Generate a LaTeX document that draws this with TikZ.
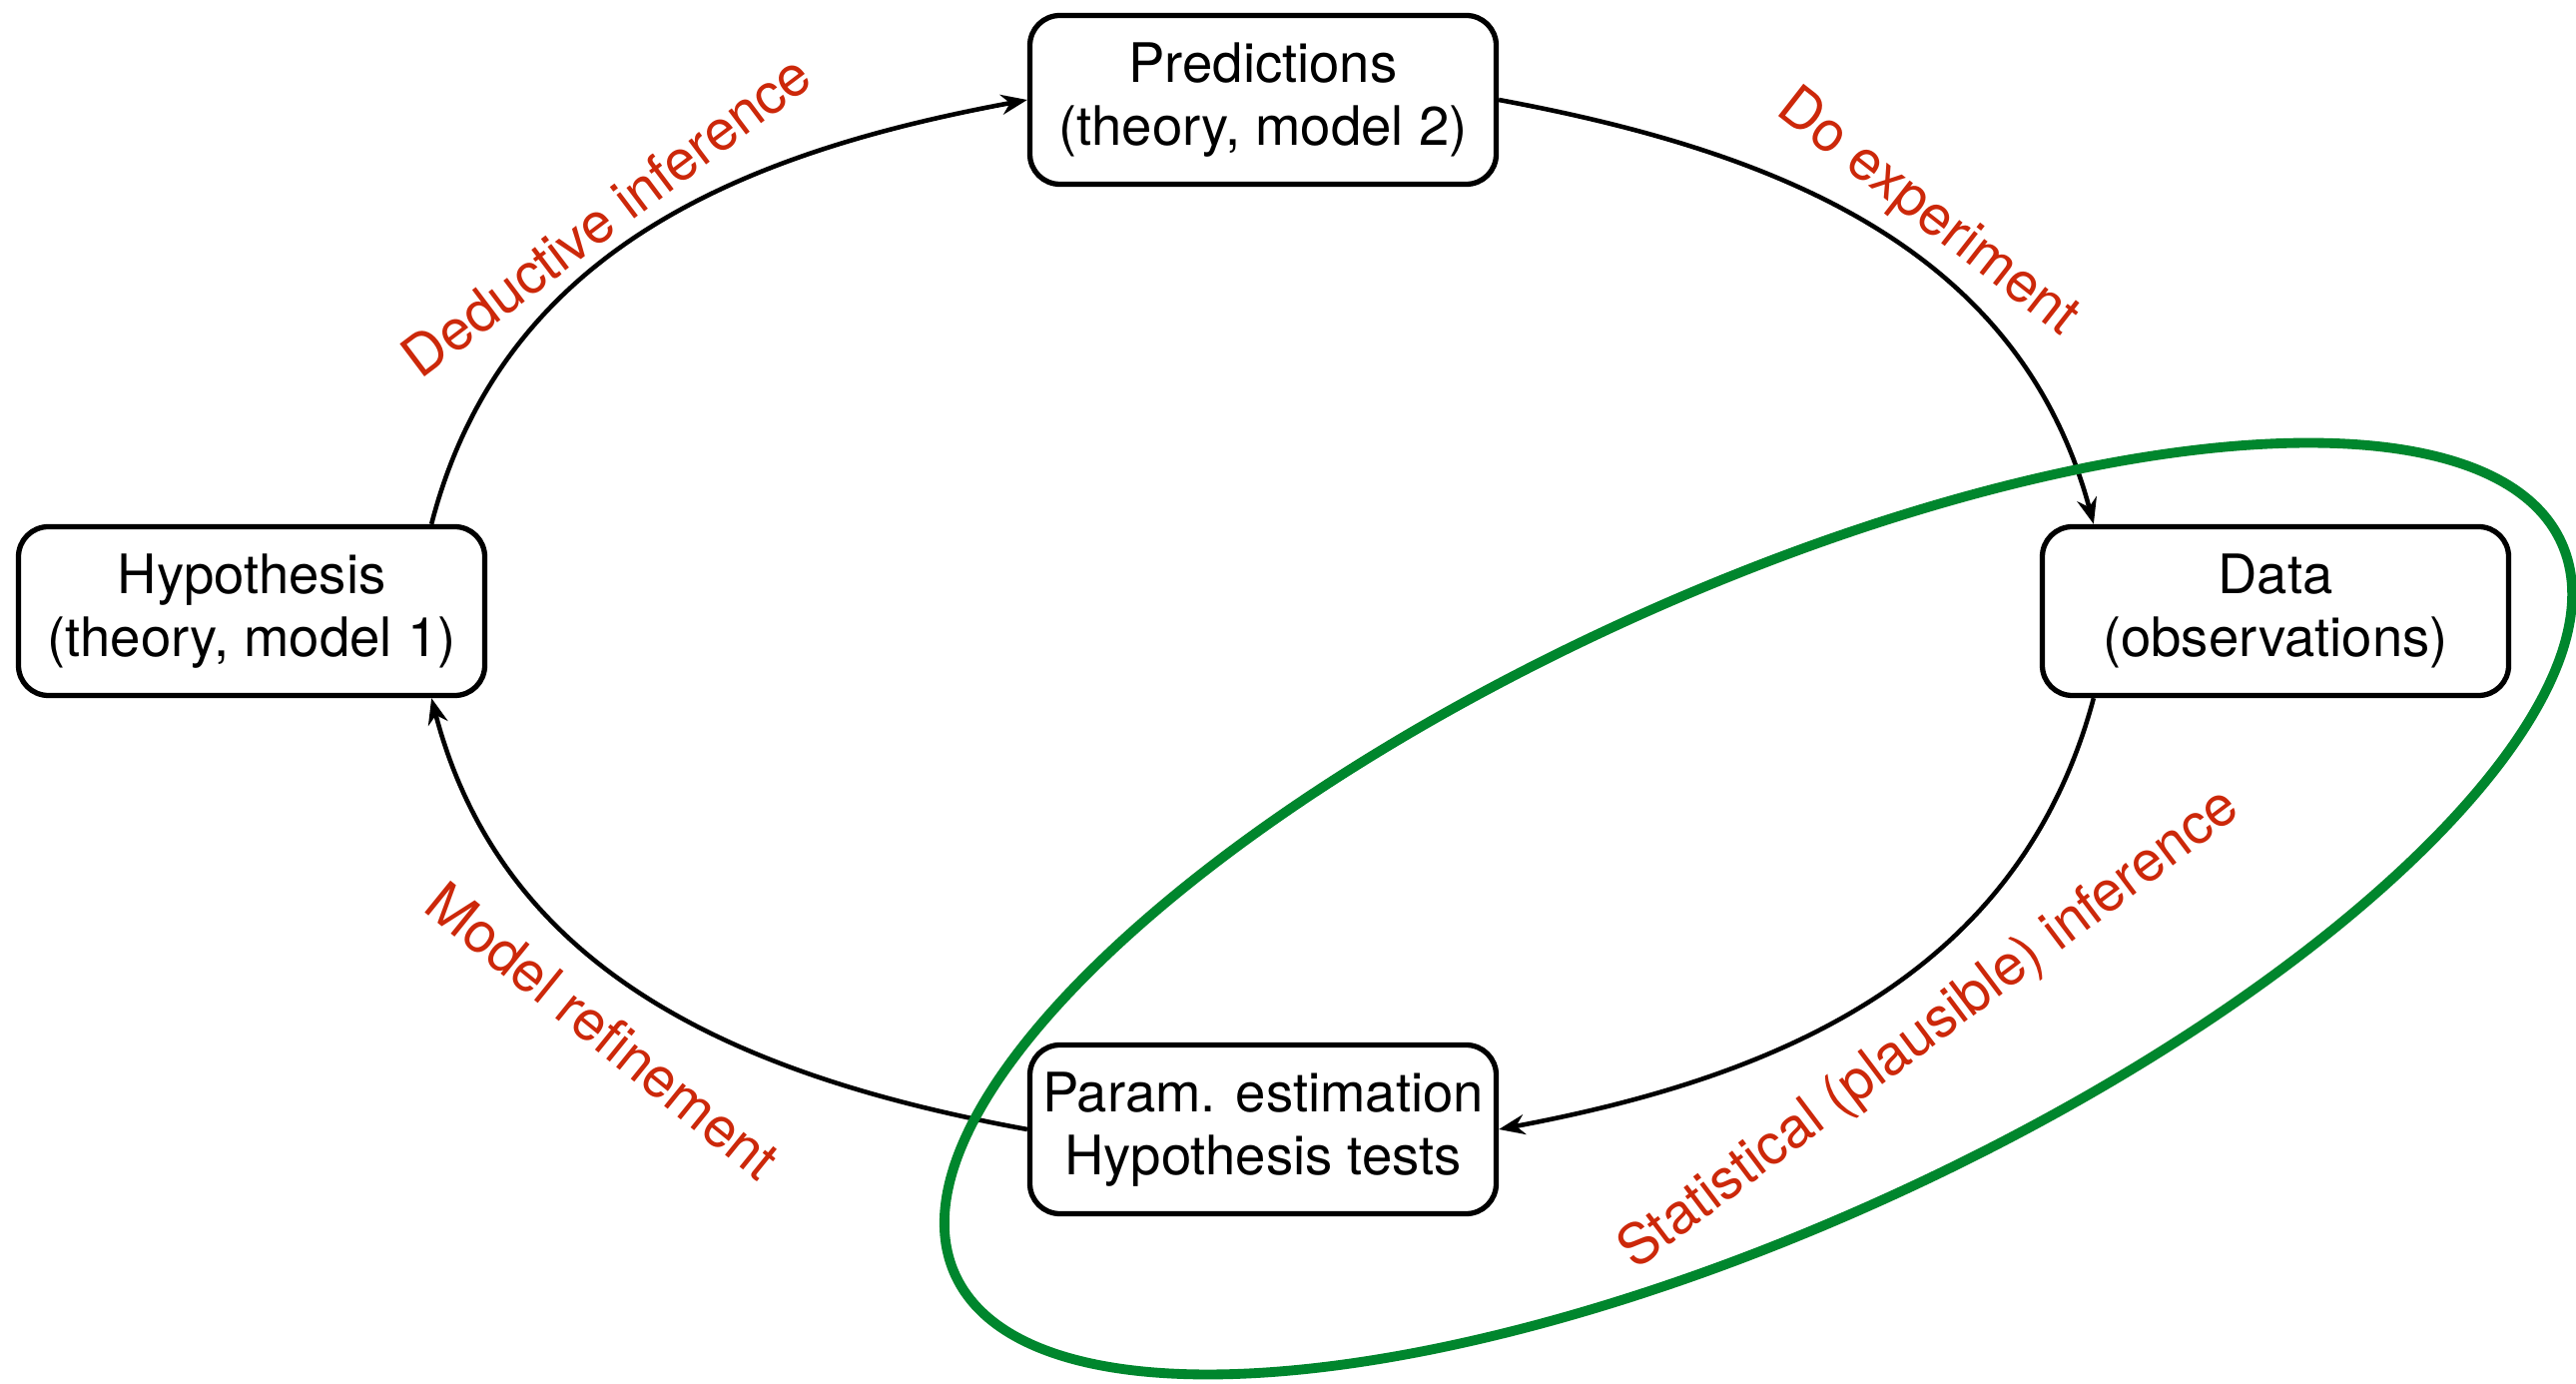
\documentclass[tikz,border=0pt]{standalone}
\usepackage{fontspec}
\setmainfont{TeX Gyre Heros}
\usepackage{tikz}
\usetikzlibrary{arrows.meta, positioning, calc}
\usepackage{xcolor}
\definecolor{labelred}{RGB}{204,40,10}
\definecolor{loopgreen}{RGB}{0,134,45}

\tikzset{
  stagebox/.style={draw, line width=1.5pt, rounded corners=0.3cm, fill=white,
    minimum width=4.67cm, minimum height=1.69cm, align=center,
    font=\fontsize{15.5}{18}\selectfont},
  cyclearrow/.style={line width=1.3pt, -{Stealth[length=0.26cm, width=0.2cm]}},
  steplabel/.style={labelred, font=\fontsize{16}{18}\selectfont}
}

\begin{document}
\begin{tikzpicture}
  \useasboundingbox[fill=white] (0,0) rectangle (25.8,13.85);
  % the four stages of the cycle
  \node[stagebox] (pred)  at (12.65,12.85) {Predictions\\(theory, model 2)};
  \node[stagebox] (hyp)   at (2.52,7.73)   {Hypothesis\\(theory, model 1)};
  \node[stagebox] (data)  at (22.79,7.73)  {Data\\(observations)};
  \node[stagebox] (param) at (12.65,2.54)  {Param. estimation\\Hypothesis tests};
  % arrows round the cycle
  \draw[cyclearrow] ([xshift=-0.56cm]hyp.north east) to[out=75.5, in=190.5] (pred.west);
  \draw[cyclearrow] (pred.east) to[out=-10.5, in=105] ([xshift=0.54cm]data.north west);
  \draw[cyclearrow] ([xshift=0.54cm]data.south west) to[out=-105, in=10.6] (param.east);
  \draw[cyclearrow] (param.west) to[out=169.6, in=-75.4] ([xshift=-0.56cm]hyp.south east);
  % labels
  \node[steplabel, rotate=37]  (deduct) at (6.07,11.69) {Deductive inference};
  \node[steplabel, rotate=-38] (exper)  at (19.30,11.71) {Do experiment};
  \node[steplabel, rotate=37]  (stat)   at (19.33,3.53) {Statistical (plausible) inference};
  \node[steplabel, rotate=-39] (refine) at (6.04,3.53) {Model refinement};
  % statistics part
  \draw[loopgreen, line width=2.8pt, rotate around={24.5:(17.61,4.75)}]
    (17.61,4.75) ellipse [x radius=8.84, y radius=3.17];
\end{tikzpicture}
\end{document}
